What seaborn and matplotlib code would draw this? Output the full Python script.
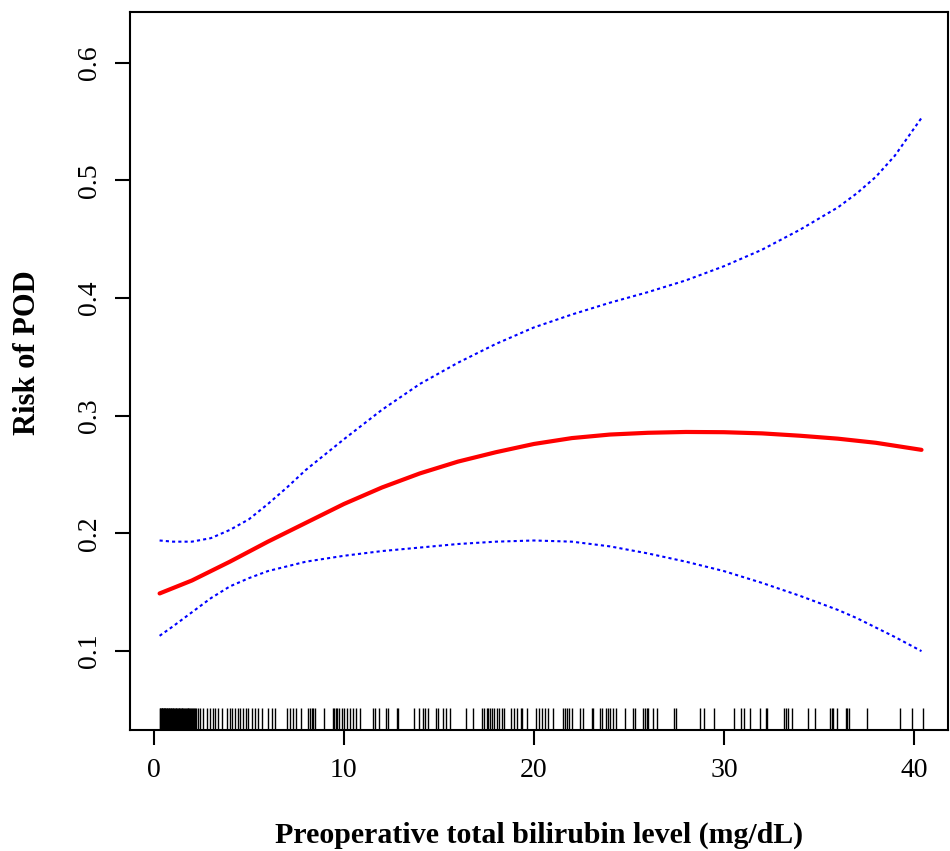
import numpy as np
import pandas as pd
import matplotlib
matplotlib.use("Agg")
import matplotlib.pyplot as plt
import seaborn as sns

#--------------------Data-------------------------------------------
fit_x = [0.3, 2, 4, 6, 8, 10, 12, 14, 16, 18, 20, 22, 24, 26, 28, 30, 32, 34, 36, 38, 40.4]
fit_y = [0.149, 0.160, 0.176, 0.193, 0.209, 0.225, 0.239, 0.251, 0.261, 0.269, 0.276,
         0.281, 0.284, 0.2855, 0.2862, 0.2860, 0.285, 0.283, 0.2805, 0.277, 0.271]

ci_x = [0.3, 1, 2, 3, 4, 5, 6, 7, 8, 10, 12, 14, 16, 18, 20, 22, 24, 26, 28, 30, 32, 34, 36,
        37, 38, 39, 40.4]
upper_y = [0.194, 0.193, 0.193, 0.196, 0.203, 0.212, 0.225, 0.239, 0.254, 0.280, 0.305, 0.327,
           0.345, 0.361, 0.375, 0.386, 0.396, 0.405, 0.415, 0.427, 0.441, 0.458, 0.477,
           0.489, 0.503, 0.521, 0.553]
lower_y = [0.113, 0.121, 0.133, 0.145, 0.155, 0.162, 0.168, 0.172, 0.176, 0.181, 0.185, 0.188,
           0.191, 0.193, 0.194, 0.193, 0.189, 0.183, 0.176, 0.168, 0.158, 0.147, 0.135,
           0.128, 0.120, 0.112, 0.100]

# observed bilirubin values (rug)
bilirubin = [0.30, 0.33, 0.36, 0.40, 0.42, 0.45, 0.48, 0.52, 0.55, 0.58, 0.60, 0.63, 0.67, 0.70,
             0.74, 0.77, 0.80, 0.84, 0.88, 0.91, 0.95, 1.00, 1.03, 1.07, 1.10, 1.14, 1.18, 1.22,
             1.25, 1.30, 1.34, 1.38, 1.42, 1.46, 1.50, 1.55, 1.60, 1.64, 1.68, 1.73, 1.78, 1.82,
             1.87, 1.92, 1.96, 2.01, 2.06, 2.12, 2.18, 2.24, 2.30,
             2.42, 2.58, 2.79, 2.95, 3.11, 3.21, 3.37, 3.58, 3.84, 4.00, 4.11, 4.26, 4.42, 4.53,
             4.68, 4.84, 4.95, 5.16, 5.32, 5.47, 5.68, 6.00, 6.21, 6.37,
             7.00, 7.16, 7.32, 7.47, 7.74, 8.11, 8.21, 8.32, 8.37, 8.47, 8.95, 9.42, 9.47, 9.58,
             9.63, 9.74, 9.89, 10.00, 10.16, 10.32, 10.47, 10.63, 10.84, 11.53, 11.63, 11.84,
             12.21, 12.32, 12.79, 12.84,
             13.68, 13.95, 14.16, 14.26, 14.42, 14.84, 14.95, 15.21, 15.37, 15.58, 16.42, 16.79,
             17.26, 17.37, 17.53, 17.58, 17.68, 17.79, 17.89, 18.05, 18.16, 18.32, 18.42, 18.79,
             18.95, 19.11, 19.32, 19.37, 19.63,
             20.11, 20.26, 20.42, 20.58, 20.74, 21.00, 21.53, 21.63, 21.74, 21.84, 22.00, 22.42,
             22.58, 23.05, 23.11, 23.47, 23.58, 23.79, 23.89, 24.00, 24.16, 24.32, 24.79, 25.21,
             25.32, 25.74, 25.84, 25.95, 26.00, 26.26,
             26.47, 27.37, 27.47, 28.74, 28.95, 29.47, 30.53, 30.89, 31.05, 31.37, 31.89, 32.21,
             32.26,
             33.16, 33.26, 33.37, 33.58, 34.42, 34.79, 35.58, 35.68, 35.74, 35.95, 36.42, 36.47,
             36.58, 37.53, 39.26, 39.89, 40.47]

x_ticks = [0, 10, 20, 30, 40]
y_ticks = [0.1, 0.2, 0.3, 0.4, 0.5, 0.6]

fit_df = pd.DataFrame({"x": fit_x, "y": fit_y})
ci_df = pd.DataFrame({"x": ci_x, "upper": upper_y, "lower": lower_y})
rug_df = pd.DataFrame({"bilirubin": bilirubin})

#--------------------Plot-----------------------
sns.set_style("ticks")
plt.rcParams["font.family"] = ["Liberation Serif", "DejaVu Serif"]
plt.rcParams["text.color"] = "black"
plt.rcParams["axes.labelcolor"] = "black"
plt.rcParams["xtick.color"] = "black"
plt.rcParams["ytick.color"] = "black"

fig = plt.figure(figsize=(9.5, 8.51), dpi=100)
ax = fig.add_axes([0.1368, 0.1422, 0.8612, 0.8437])

sns.lineplot(data=ci_df, x="x", y="upper", ax=ax, color="blue", lw=1.5, linestyle=(0, (1.5, 1.5)))
sns.lineplot(data=ci_df, x="x", y="lower", ax=ax, color="blue", lw=1.5, linestyle=(0, (1.5, 1.5)))
sns.lineplot(data=fit_df, x="x", y="y", ax=ax, color="red", lw=3)
sns.rugplot(data=rug_df, x="bilirubin", ax=ax, height=0.03, color="black", lw=0.8)

ax.set_xlim(-1.26, 41.8)
ax.set_ylim(0.033, 0.643)
ax.set_xticks(x_ticks)
ax.set_yticks(y_ticks)
ax.set_xticklabels([str(t) for t in x_ticks], fontsize=20)
ax.set_yticklabels([str(t) for t in y_ticks], fontsize=20, rotation=90, va="center")
ax.tick_params(axis="both", length=11, width=1.5, color="black", pad=9)
for side in ["left", "right", "top", "bottom"]:
    ax.spines[side].set_visible(True)
    ax.spines[side].set_linewidth(1.5)
    ax.spines[side].set_color("black")

ax.set_xlabel("Preoperative total bilirubin level (mg/dL)", fontsize=21.5, fontweight="bold", labelpad=28)
ax.set_ylabel("Risk of POD", fontsize=22, fontweight="bold", va="center")
ax.yaxis.set_label_coords(-0.125, 0.526)

fig.savefig("out.png", dpi=100)
